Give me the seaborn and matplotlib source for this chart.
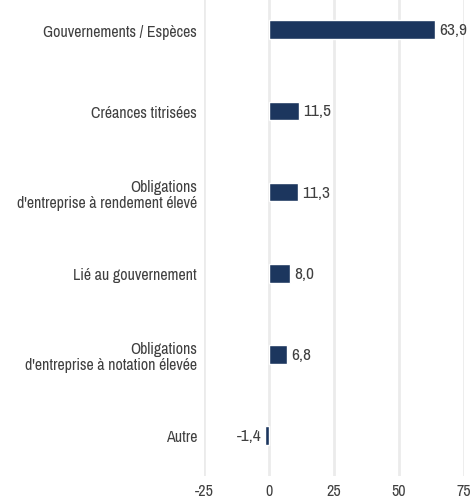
import matplotlib
matplotlib.use("Agg")
import matplotlib.pyplot as plt
import seaborn as sns
import pandas as pd
from matplotlib import font_manager

categories = [
    "Gouvernements / Espèces",
    "Créances titrisées",
    "Obligations\nd'entreprise à rendement élevé",
    "Lié au gouvernement",
    "Obligations\nd'entreprise à notation élevée",
    "Autre",
]
values = [63.9, 11.5, 11.3, 8.0, 6.8, -1.4]
x_ticks = [-25, 0, 25, 50, 75]

data = pd.DataFrame({"categorie": categories, "valeur": values})

sns.set_style("white")

# look for a narrow font, otherwise fall back to DejaVu Sans
fonts = font_manager.fontManager.ttflist
narrow = [f for f in fonts
          if ("Condensed" in f.name or "Narrow" in f.name
              or f.stretch in ("condensed", "semi-condensed", "extra-condensed"))
          and f.style == "normal"]
stretch = "normal"
size = 9.5
val_size = 9.5
fam = ["DejaVu Sans"]
if narrow:
    pick = sorted(narrow, key=lambda f: (f.weight != 400 and f.weight != "normal", f.name))[0]
    fam = [pick.name, "DejaVu Sans"]
    stretch = pick.stretch
    size = 11.5
    val_size = 12.5
plt.rcParams["font.family"] = fam
plt.rcParams["font.stretch"] = stretch

text_color = "#404040"
bar_color = "#1c365e"

fig = plt.figure(figsize=(4.71, 5.02), dpi=100)
ax = fig.add_axes([204 / 471, 25 / 502, 260 / 471, 477 / 502])

sns.barplot(data=data, x="valeur", y="categorie", color=bar_color,
            width=0.23, saturation=1, ax=ax, zorder=3)

ax.set_xlim(-25, 75)
ax.set_ylim(5.5, -0.38)
ax.set_xticks(x_ticks)
ax.set_xticklabels([str(t) for t in x_ticks])
ax.grid(axis="x", color="#ebebeb", linewidth=2, zorder=0)
ax.grid(axis="y", visible=False)
for s in ax.spines.values():
    s.set_visible(False)
ax.tick_params(axis="both", length=0, labelsize=size, colors=text_color, pad=5)
for lbl in ax.get_yticklabels():
    lbl.set_linespacing(1.1)
ax.set_xlabel("")
ax.set_ylabel("")

for i, v in enumerate(values):
    txt = f"{v:.1f}".replace(".", ",")
    if v >= 0:
        ax.annotate(txt, (v, i), xytext=(3, 0), textcoords="offset points",
                    ha="left", va="center", fontsize=val_size, color=text_color)
    else:
        ax.annotate(txt, (v, i), xytext=(-3, 0), textcoords="offset points",
                    ha="right", va="center", fontsize=val_size, color=text_color)

fig.savefig("out.png", dpi=100)
